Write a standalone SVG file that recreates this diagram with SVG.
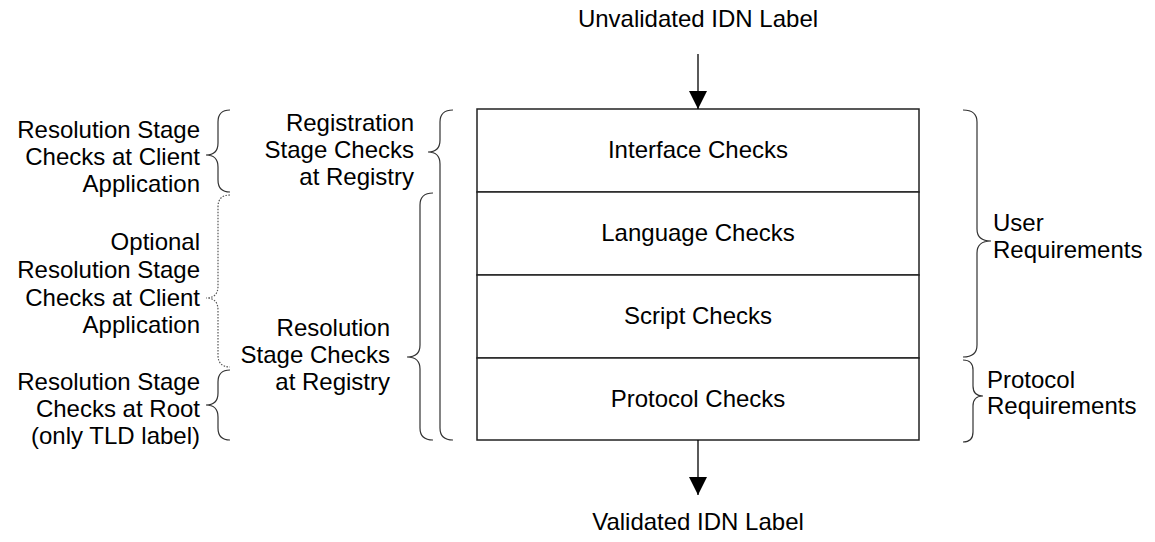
<svg xmlns="http://www.w3.org/2000/svg" width="1155" height="542" viewBox="0 0 1155 542">
  <style>
    text { font-family: "Liberation Sans", Arial, sans-serif; fill: #000; font-size: 24px; }
    .lbl { text-anchor: middle; }
    .side { text-anchor: end; }
    .req { text-anchor: start; }
    .box { fill: #fff; stroke: #222; stroke-width: 1.5; }
    .brace { fill: none; stroke: #333; stroke-width: 1.2; }
    .dotted { stroke-dasharray: 1.5 1.5; stroke: #555; }
    .flow { stroke: #000; stroke-width: 1.3; fill: none; }
  </style>
  <defs>
    <marker id="head" markerUnits="userSpaceOnUse" markerWidth="20" markerHeight="18" refX="18" refY="9" orient="auto">
      <path d="M0,0 L18,9 L0,18 Z" fill="#000"/>
    </marker>
  </defs>

  <!-- input / output labels -->
  <g id="input"><text class="lbl" x="698" y="27">Unvalidated IDN Label</text></g>
  <g id="output"><text class="lbl" x="698" y="530">Validated IDN Label</text></g>

  <!-- stacked check layers -->
  <g id="interface">
    <rect class="box" x="477" y="109" width="442" height="83"/>
    <text class="lbl" x="698" y="158">Interface Checks</text>
  </g>
  <g id="language">
    <rect class="box" x="477" y="192" width="442" height="83"/>
    <text class="lbl" x="698" y="241">Language Checks</text>
  </g>
  <g id="script">
    <rect class="box" x="477" y="275" width="442" height="83"/>
    <text class="lbl" x="698" y="324">Script Checks</text>
  </g>
  <g id="protocol">
    <rect class="box" x="477" y="358" width="442" height="82"/>
    <text class="lbl" x="698" y="407">Protocol Checks</text>
  </g>

  <!-- flow arrows -->
  <g id="connectors">
    <line class="flow" x1="698" y1="54" x2="698" y2="109" marker-end="url(#head)"/>
    <line class="flow" x1="698" y1="440" x2="698" y2="495" marker-end="url(#head)"/>
  </g>

  <!-- client-side resolution checks -->
  <g id="client-resolution">
    <path class="brace" d="M230,110 Q218,110 218,122 L218,143 Q218,155 206,155 Q218,155 218,167 L218,180 Q218,192 230,192"/>
    <text class="side" x="200" y="138">Resolution Stage</text>
    <text class="side" x="200" y="165">Checks at Client</text>
    <text class="side" x="200" y="192">Application</text>
  </g>
  <g id="optional-client-resolution">
    <path class="brace dotted" d="M230,195 Q218,195 218,207 L218,286 Q218,298 206,298 Q218,298 218,310 L218,355 Q218,367 230,367"/>
    <text class="side" x="200" y="250">Optional</text>
    <text class="side" x="200" y="278">Resolution Stage</text>
    <text class="side" x="200" y="306">Checks at Client</text>
    <text class="side" x="200" y="333">Application</text>
  </g>
  <g id="root-resolution">
    <path class="brace" d="M230,370 Q218,370 218,382 L218,393 Q218,405 206,405 Q218,405 218,417 L218,428 Q218,440 230,440"/>
    <text class="side" x="200" y="390">Resolution Stage</text>
    <text class="side" x="200" y="417">Checks at Root</text>
    <text class="side" x="200" y="444">(only TLD label)</text>
  </g>

  <!-- registry checks -->
  <g id="registry-registration">
    <path class="brace" d="M453,110 Q440,110 440,122 L440,140 Q440,152 428,152 Q440,152 440,164 L440,428 Q440,440 453,440"/>
    <text class="side" x="414" y="131">Registration</text>
    <text class="side" x="414" y="158">Stage Checks</text>
    <text class="side" x="414" y="185">at Registry</text>
  </g>
  <g id="registry-resolution">
    <path class="brace" d="M433,193 Q420,193 420,205 L420,345 Q420,357 407,357 Q420,357 420,369 L420,428 Q420,440 433,440"/>
    <text class="side" x="390" y="336">Resolution</text>
    <text class="side" x="390" y="363">Stage Checks</text>
    <text class="side" x="390" y="390">at Registry</text>
  </g>

  <!-- requirement groupings -->
  <g id="user-requirements">
    <path class="brace" d="M963,110 Q977,110 977,122 L977,229 Q977,241 991,241 Q977,241 977,253 L977,345 Q977,357 963,357"/>
    <text class="req" x="993" y="231">User</text>
    <text class="req" x="993" y="258">Requirements</text>
  </g>
  <g id="protocol-requirements">
    <path class="brace" d="M963,360 Q973,360 973,370 L973,386 Q973,396 983,396 Q973,396 973,406 L973,432 Q973,442 963,442"/>
    <text class="req" x="987" y="388">Protocol</text>
    <text class="req" x="987" y="414">Requirements</text>
  </g>
</svg>
